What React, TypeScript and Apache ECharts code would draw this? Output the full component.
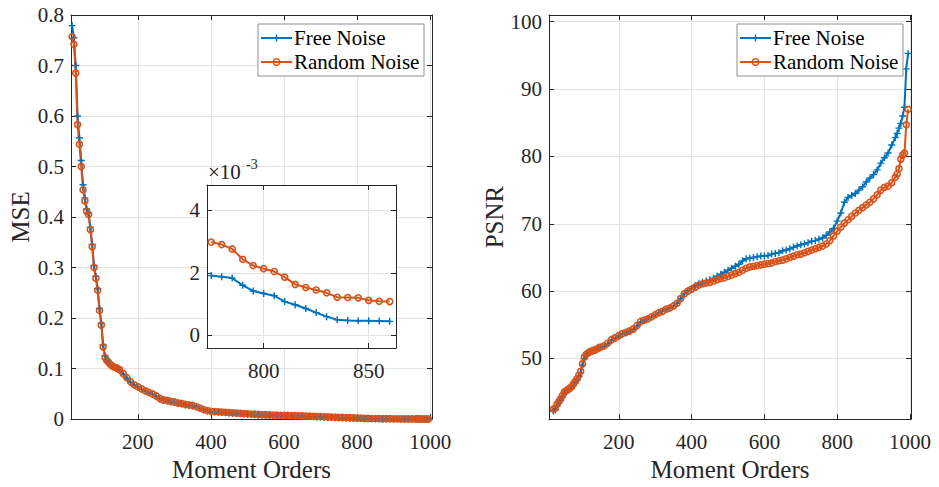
import React, { useEffect, useRef } from "react";
import * as echarts from "echarts";

// Moment orders (shared x positions of both panels)
const ORDERS = [
  20, 25, 30, 35, 40, 45, 50, 55, 60, 65, 70, 75, 80, 85, 90, 95, 100, 105, 110, 115, 120, 125, 130, 135, 140, 145, 150,
  160, 170, 180, 190, 200, 210, 220, 230, 240, 250, 260, 270, 280, 290, 300, 310, 320, 330, 340, 350, 360, 370, 380, 390,
  400, 410, 420, 430, 440, 450, 460, 470, 480, 490, 500, 510, 520, 530, 540, 550, 560, 570, 580, 590, 600, 610, 620, 630,
  640, 650, 660, 670, 680, 690, 700, 710, 720, 730, 740, 750, 760, 770, 780, 790, 800, 810, 820, 830, 840, 850, 860, 870,
  880, 890, 900, 910, 920, 930, 940, 950, 960,
  965, 970, 975, 980, 985, 990, 995,
];

const MSE_FREE = [
  0.779, 0.755, 0.7, 0.6, 0.557, 0.512, 0.464, 0.438, 0.416, 0.408, 0.38, 0.346, 0.304, 0.283, 0.258, 0.219, 0.19, 0.147,
  0.125, 0.118, 0.113, 0.109, 0.106, 0.103, 0.101, 0.099, 0.097,
  0.089, 0.081, 0.073, 0.067, 0.063, 0.059, 0.055, 0.052, 0.049, 0.045, 0.04, 0.037, 0.036, 0.034, 0.033, 0.031, 0.03,
  0.028, 0.027, 0.026, 0.024, 0.021, 0.018, 0.016, 0.0145, 0.014, 0.0135, 0.013, 0.0125, 0.012, 0.0115, 0.011, 0.0105,
  0.01, 0.0095, 0.009, 0.0087, 0.0083, 0.008, 0.0077, 0.0074, 0.0071, 0.0068, 0.0066, 0.0064, 0.0062, 0.006, 0.0058,
  0.0056, 0.0054, 0.0052, 0.0049, 0.0046, 0.0043, 0.004, 0.0037, 0.0034, 0.0031, 0.0028, 0.0025, 0.0022, 0.002, 0.00187,
  0.0016, 0.00134, 0.00108, 0.00086, 0.0006, 0.00048, 0.00047, 0.00045, 0.0004, 0.00035, 0.0003, 0.00028, 0.00025,
  0.00022, 0.0002, 0.00018, 0.00015, 0.00013,
  0.00012, 0.0001, 0.0001, 0.00008, 0.00007, 0.00006, 0.00005,
];

const MSE_RANDOM = [
  0.757, 0.742, 0.685, 0.583, 0.544, 0.5, 0.454, 0.432, 0.411, 0.405, 0.375, 0.341, 0.3, 0.279, 0.255, 0.215, 0.186, 0.143,
  0.122, 0.116, 0.112, 0.108, 0.105, 0.103, 0.102, 0.1, 0.098,
  0.09, 0.082, 0.074, 0.068, 0.064, 0.06, 0.056, 0.053, 0.05, 0.046, 0.041, 0.038, 0.037, 0.035, 0.034, 0.032, 0.031,
  0.029, 0.028, 0.027, 0.025, 0.022, 0.019, 0.017, 0.0155, 0.015, 0.0145, 0.014, 0.0135, 0.013, 0.0125, 0.012, 0.0115,
  0.011, 0.0105, 0.01, 0.0097, 0.0093, 0.009, 0.0087, 0.0084, 0.0081, 0.0078, 0.0076, 0.0074, 0.0072, 0.007, 0.0068,
  0.0066, 0.0064, 0.0062, 0.0059, 0.0056, 0.0053, 0.005, 0.0047, 0.0044, 0.0041, 0.0038, 0.0035, 0.0033, 0.0031, 0.0029,
  0.0024, 0.0021, 0.0019, 0.0015, 0.0014, 0.0012, 0.0011, 0.0011, 0.001, 0.0009, 0.0008, 0.0007, 0.0006, 0.0005, 0.0005,
  0.0004, 0.0004, 0.0003,
  0.0003, 0.0003, 0.0002, 0.0002, 0.0002, 0.0001, 0.0001,
];

const PSNR_FREE = [
  42.2, 42.4, 42.9, 43.4, 43.8, 44.3, 44.8, 45.0, 45.2, 45.4, 45.6, 46.0, 46.4, 46.8, 47.3, 47.9, 49.0, 50.0, 50.5, 50.7,
  50.9, 51.0, 51.1, 51.2, 51.3, 51.5, 51.6,
  51.8, 52.2, 52.7, 53.0, 53.3, 53.6, 53.8, 54.0, 54.3, 54.8, 55.4, 55.6, 55.9, 56.2, 56.5, 56.8, 57.0, 57.3, 57.5, 57.8,
  58.2, 58.9, 59.6, 60.1, 60.4, 60.8, 61.1, 61.3, 61.5, 61.7, 61.9, 62.2, 62.5, 62.8, 63.1, 63.4, 63.7, 64.0, 64.5, 64.8,
  64.9, 65.0, 65.1, 65.2, 65.2, 65.3, 65.5, 65.6, 65.7, 66.0, 66.1, 66.3, 66.5, 66.7, 66.9, 67.0, 67.2, 67.4, 67.5, 67.7,
  67.9, 68.3, 68.8, 69.3, 70.4, 71.6, 73.2, 73.9, 74.2, 74.5, 75.0, 75.5, 76.2, 76.8, 77.3, 78.0, 79.0, 79.8, 80.5, 81.7,
  82.8,
  83.4, 84.2, 84.9, 86.0, 87.3, 93.0, 95.3,
];

const PSNR_RANDOM = [
  42.5, 42.6, 43.2, 43.6, 44.0, 44.5, 45.0, 45.2, 45.4, 45.6, 45.8, 46.2, 46.6, 47.0, 47.5, 48.1, 49.2, 50.2, 50.6, 50.8,
  51.0, 51.1, 51.2, 51.3, 51.4, 51.6, 51.7,
  51.9, 52.3, 52.8, 53.1, 53.4, 53.7, 53.9, 54.1, 54.4, 54.9, 55.5, 55.7, 55.9, 56.2, 56.5, 56.8, 57.0, 57.3, 57.5, 57.8,
  58.2, 58.9, 59.6, 60.0, 60.3, 60.6, 60.9, 61.1, 61.2, 61.3, 61.5, 61.7, 61.9, 62.0, 62.2, 62.4, 62.6, 62.8, 63.1, 63.4,
  63.6, 63.7, 63.8, 63.9, 64.0, 64.1, 64.2, 64.4, 64.5, 64.6, 64.8, 65.0, 65.2, 65.4, 65.5, 65.7, 65.9, 66.1, 66.3, 66.5,
  66.7, 67.0, 67.5, 68.2, 68.9, 69.5, 70.1, 70.6, 71.1, 71.6, 72.0, 72.4, 72.8, 73.2, 73.7, 74.3, 75.0, 75.4, 75.6, 76.1,
  76.9,
  77.4, 78.2, 79.6, 80.2, 80.5, 84.7, 87.0,
];

// Inset (zoom of MSE, in units of 1e-3)
const INSET_ORDERS = [775, 780, 785, 790, 795, 800, 805, 810, 815, 820, 825, 830, 835, 840, 845, 850, 855, 860];
const INSET_FREE = [1.91, 1.87, 1.83, 1.6, 1.42, 1.34, 1.27, 1.08, 0.98, 0.86, 0.73, 0.6, 0.5, 0.48, 0.47, 0.47, 0.46, 0.45];
const INSET_RANDOM = [2.98, 2.9, 2.76, 2.43, 2.23, 2.13, 2.04, 1.86, 1.63, 1.53, 1.45, 1.36, 1.22, 1.21, 1.2, 1.12, 1.09, 1.08];

const X_TICKS = [200, 400, 600, 800, 1000];
const PSNR_TICKS = [50, 60, 70, 80, 90, 100];
const INSET_X_TICKS = [800, 850];
const INSET_Y_TICKS = [0, 2, 4];

const SERIES_NAMES = ["Free Noise", "Random Noise"];
const X_NAME = "Moment Orders";
const MSE_NAME = "MSE";
const PSNR_NAME = "PSNR";

const BLUE = "#0072BD";
const ORANGE = "#D95319";
const AXIS = "#262626";
const GRIDC = "#e3e3e3";
const FONT = "Liberation Serif";
const PLUS = "path://M4,0 H6 V4 H10 V6 H6 V10 H4 V6 H0 V4 H4 Z";

function pairs(xs: number[], ys: number[]) {
  return xs.map((x, i) => [x, ys[i]]);
}

const fmt = (v: number) => String(Math.round(v * 1000) / 1000);

function xAxisPair(grid: number, min: number, max: number, ticks: number[] | null, interval: number | null, z: number, name?: string, labelMargin = 12) {
  const tickCfg: any = { show: true, inside: true, length: 5, lineStyle: { color: AXIS, width: 1 } };
  const labelCfg: any = { show: true, fontSize: 21, color: AXIS, fontFamily: FONT, margin: labelMargin, formatter: fmt };
  if (ticks) {
    tickCfg.customValues = ticks;
    labelCfg.customValues = ticks;
  }
  const base: any = {
    type: "value",
    gridIndex: grid,
    min,
    max,
    z,
    axisLine: { show: true, onZero: false, lineStyle: { color: AXIS, width: 1 } },
  };
  if (interval) base.interval = interval;
  const bottom: any = {
    ...base,
    position: "bottom",
    axisTick: tickCfg,
    axisLabel: labelCfg,
    splitLine: { show: true, lineStyle: { color: GRIDC, width: 1 } },
  };
  if (name) {
    bottom.name = name;
    bottom.nameLocation = "middle";
    bottom.nameGap = 36;
    bottom.nameTextStyle = { fontSize: 25, color: AXIS, fontFamily: FONT };
  }
  const top: any = {
    ...base,
    position: "top",
    axisTick: { ...tickCfg },
    axisLabel: { show: false },
    splitLine: { show: false },
  };
  return [bottom, top];
}

function yAxisPair(grid: number, min: number, max: number, ticks: number[] | null, interval: number | null, z: number, name?: string, nameGap = 38) {
  const tickCfg: any = { show: true, inside: true, length: 5, lineStyle: { color: AXIS, width: 1 } };
  const labelCfg: any = { show: true, fontSize: 21, color: AXIS, fontFamily: FONT, margin: 7, formatter: fmt };
  if (ticks) {
    tickCfg.customValues = ticks;
    labelCfg.customValues = ticks;
  }
  const base: any = {
    type: "value",
    gridIndex: grid,
    min,
    max,
    z,
    axisLine: { show: true, onZero: false, lineStyle: { color: AXIS, width: 1 } },
  };
  if (interval) base.interval = interval;
  const left: any = {
    ...base,
    position: "left",
    axisTick: tickCfg,
    axisLabel: labelCfg,
    splitLine: { show: true, lineStyle: { color: GRIDC, width: 1 } },
  };
  if (name) {
    left.name = name;
    left.nameLocation = "middle";
    left.nameGap = nameGap;
    left.nameTextStyle = { fontSize: 25, color: AXIS, fontFamily: FONT };
  }
  const right: any = {
    ...base,
    position: "right",
    axisTick: { ...tickCfg },
    axisLabel: { show: false },
    splitLine: { show: false },
  };
  return [left, right];
}

function freeSeries(xi: number, yi: number, data: number[][], z = 2): any {
  return {
    type: "line",
    name: SERIES_NAMES[0],
    xAxisIndex: xi,
    yAxisIndex: yi,
    data,
    z,
    symbol: PLUS,
    symbolSize: 7,
    showSymbol: true,
    itemStyle: { color: BLUE },
    lineStyle: { color: BLUE, width: 2 },
    silent: true,
  };
}

function randomSeries(xi: number, yi: number, data: number[][], z = 2): any {
  return {
    type: "line",
    name: SERIES_NAMES[1],
    xAxisIndex: xi,
    yAxisIndex: yi,
    data,
    z,
    symbol: "circle",
    symbolSize: 6,
    showSymbol: true,
    itemStyle: { color: "rgba(255,255,255,0)", borderColor: ORANGE, borderWidth: 1.6 },
    lineStyle: { color: ORANGE, width: 2 },
    silent: true,
  };
}

function legendGraphic(x: number, y: number): any[] {
  const w = 166;
  const h = 52;
  const r1 = y + 14;
  const r2 = y + 38;
  const lx0 = x + 3;
  const lx1 = x + 34;
  const cx = (lx0 + lx1) / 2;
  return [
    { type: "rect", shape: { x, y, width: w, height: h }, style: { fill: "#fff", stroke: "#8f8f8f", lineWidth: 1 }, z: 50 },
    { type: "line", shape: { x1: lx0, y1: r1, x2: lx1, y2: r1 }, style: { stroke: BLUE, lineWidth: 2 }, z: 51 },
    { type: "line", shape: { x1: cx - 3.5, y1: r1, x2: cx + 3.5, y2: r1 }, style: { stroke: BLUE, lineWidth: 1.5 }, z: 52 },
    { type: "line", shape: { x1: cx, y1: r1 - 3.5, x2: cx, y2: r1 + 3.5 }, style: { stroke: BLUE, lineWidth: 1.5 }, z: 52 },
    { type: "text", x: x + 36, y: r1, style: { text: SERIES_NAMES[0], fontSize: 21, fontFamily: FONT, fill: "#000", verticalAlign: "middle", align: "left" }, z: 52 },
    { type: "line", shape: { x1: lx0, y1: r2, x2: lx1, y2: r2 }, style: { stroke: ORANGE, lineWidth: 2 }, z: 51 },
    { type: "circle", shape: { cx, cy: r2, r: 3.3 }, style: { fill: "rgba(255,255,255,0)", stroke: ORANGE, lineWidth: 1.5 }, z: 52 },
    { type: "text", x: x + 36, y: r2, style: { text: SERIES_NAMES[1], fontSize: 21, fontFamily: FONT, fill: "#000", verticalAlign: "middle", align: "left" }, z: 52 },
  ];
}

export default function App() {
  const ref = useRef<HTMLDivElement>(null);
  useEffect(() => {
    if (!ref.current) return;
    const chart = echarts.init(ref.current, undefined, { renderer: "svg" });
    const [lxB, lxT] = xAxisPair(0, 17, 1005, X_TICKS, null, 0, X_NAME);
    const [ixB, ixT] = xAxisPair(1, 773, 863, INSET_X_TICKS, null, 4, undefined, 12);
    const [rxB, rxT] = xAxisPair(2, 8, 1003, X_TICKS, null, 0, X_NAME);
    const [lyL, lyR] = yAxisPair(0, 0, 0.8, null, 0.1, 0, MSE_NAME, 38);
    const [iyL, iyR] = yAxisPair(1, -0.4, 4.8, INSET_Y_TICKS, null, 4);
    const [ryL, ryR] = yAxisPair(2, 41, 101, PSNR_TICKS, null, 0, PSNR_NAME, 38);

    const option: any = {
      animation: false,
      textStyle: { fontFamily: FONT },
      grid: [
        { left: 71, top: 15, width: 361, height: 411 },
        { left: 207, top: 185, width: 189, height: 163, show: true, backgroundColor: "#fff", borderWidth: 0, z: 3 },
        { left: 549, top: 15, width: 362, height: 411 },
      ],
      xAxis: [lxB, lxT, ixB, ixT, rxB, rxT],
      yAxis: [lyL, lyR, iyL, iyR, ryL, ryR],
      series: [
        freeSeries(0, 0, pairs(ORDERS, MSE_FREE)),
        randomSeries(0, 0, pairs(ORDERS, MSE_RANDOM)),
        freeSeries(2, 2, pairs(INSET_ORDERS, INSET_FREE), 6),
        randomSeries(2, 2, pairs(INSET_ORDERS, INSET_RANDOM), 6),
        freeSeries(4, 4, pairs(ORDERS, PSNR_FREE)),
        randomSeries(4, 4, pairs(ORDERS, PSNR_RANDOM)),
      ],
      graphic: [
        ...legendGraphic(258, 24),
        ...legendGraphic(737, 24),
        { type: "text", x: 208, y: 172, style: { text: "×10", fontSize: 21, fontFamily: FONT, fill: AXIS, verticalAlign: "middle", align: "left" }, z: 20 },
        { type: "text", x: 246, y: 164, style: { text: "-3", fontSize: 14, fontFamily: FONT, fill: AXIS, verticalAlign: "middle", align: "left" }, z: 20 },
      ],
    };
    chart.setOption(option);
    return () => chart.dispose();
  }, []);
  return <div ref={ref} style={{ position: "absolute", left: 0, top: 0, width: 939, height: 487 }} />;
}
